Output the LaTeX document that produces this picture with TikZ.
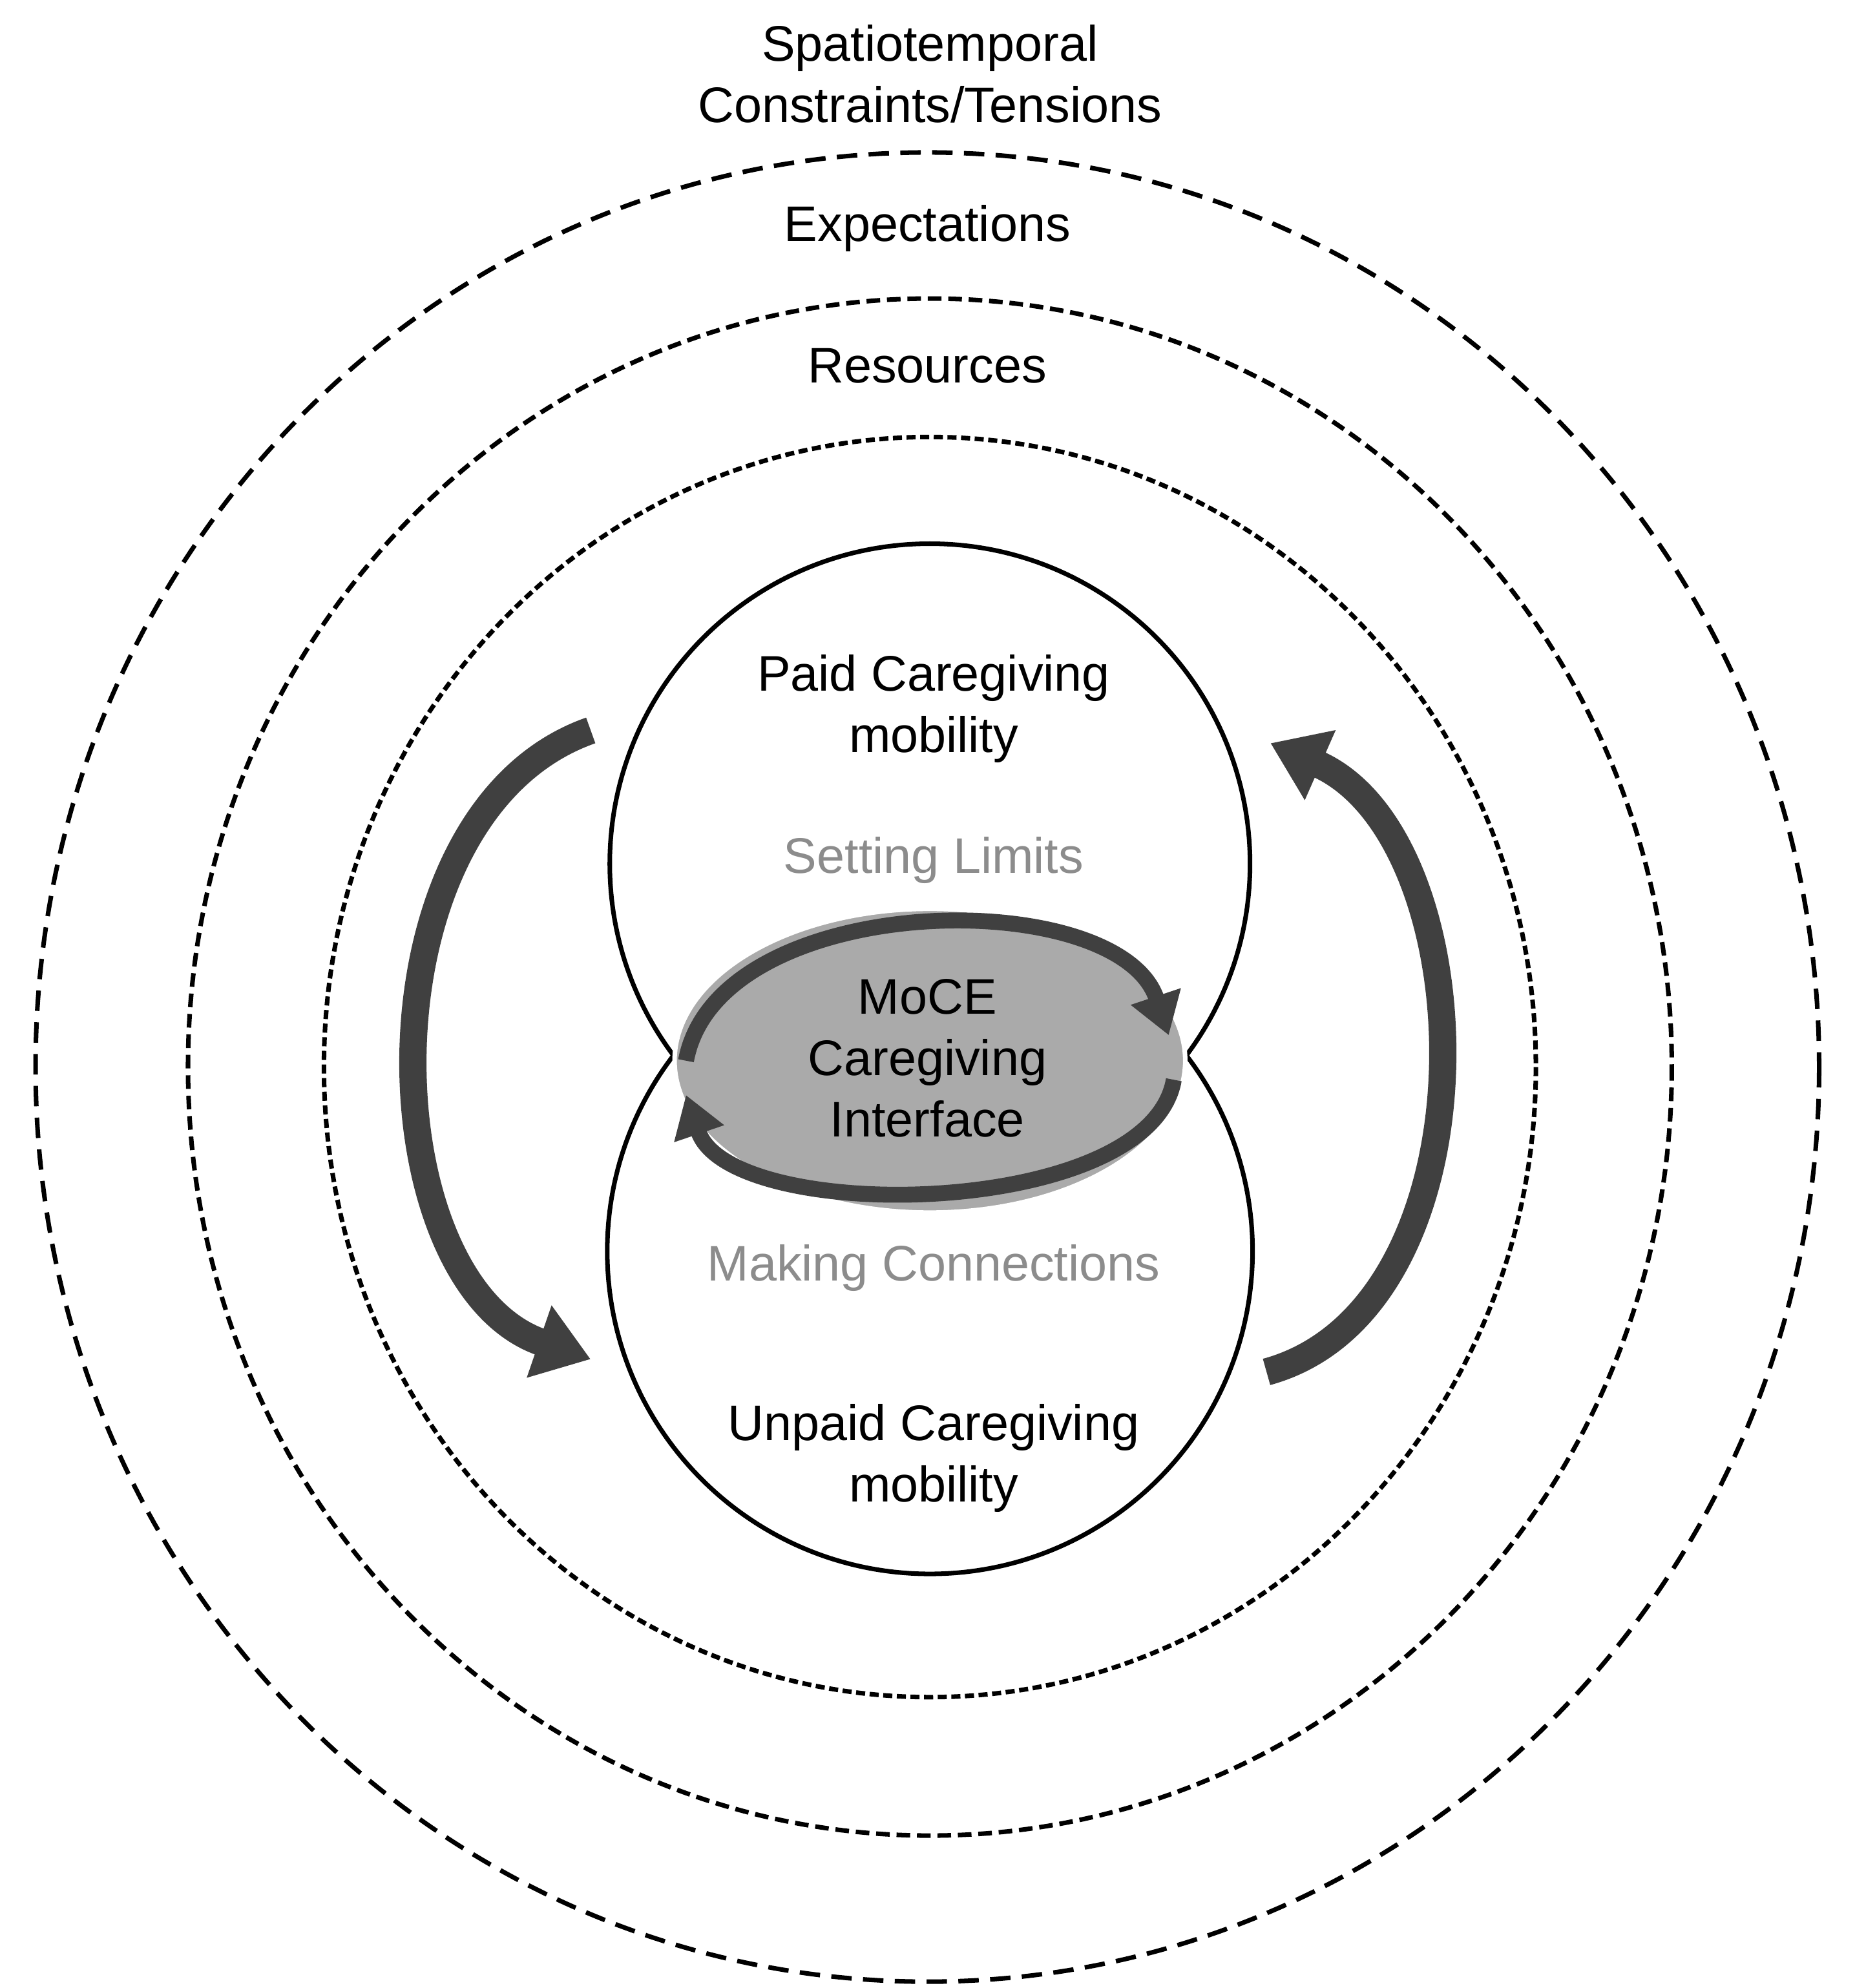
\documentclass[tikz,border=0pt]{standalone}
\usepackage{fontspec}
\setmainfont{Liberation Sans}
\usetikzlibrary{arrows.meta,shapes.geometric}
\definecolor{arrowgray}{RGB}{64,64,64}
\definecolor{coregray}{RGB}{170,170,170}
\definecolor{labelgray}{RGB}{140,140,140}
\begin{document}
\begin{tikzpicture}[x=0.01966cm,y=-0.01966cm,
    ring/.style={line width=2pt},
    txt/.style={font=\fontsize{22}{27}\selectfont,align=center},
    bigarrow/.style={draw=arrowgray,line width=12pt,
        -{Triangle[length=24pt,width=32pt]}},
    smallarrow/.style={draw=arrowgray,line width=7pt,
        -{Triangle[length=18pt,width=22pt]}}]
    \useasboundingbox (0,0) rectangle (1460,1565);
    % dashed rings
    \draw[ring,dash pattern=on 9pt off 5pt] (730,840) ellipse (702 and 720);
    \draw[ring,dash pattern=on 6pt off 3pt] (732,840) ellipse (584 and 605);
    \draw[ring,dash pattern=on 4pt off 2pt] (732,840) ellipse (477 and 496);
    % two mobility circles
    \draw[ring] (732,680) circle (252);
    \draw[ring] (732,985) circle (254);
    % core ellipse
    \node (core) [ellipse,fill=coregray,draw=white,line width=2pt,
        minimum width=7.9cm,minimum height=4.7cm] at (732,835) {};
    \draw[smallarrow] (540,835) .. controls (565,700) and (880,695) .. (920,815);
    \draw[smallarrow] (924,850) .. controls (905,960) and (575,965) .. (540,862);
    % labels
    \node[txt] (spatio) at (732,58) {Spatiotemporal\\Constraints/Tensions};
    \node[txt] (expect) at (730,180) {Expectations};
    \node[txt] (resour) at (730,288) {Resources};
    \node[txt] (paid) at (735,558) {Paid Caregiving\\mobility};
    \node[txt,text=labelgray] (limits) at (735,677) {Setting Limits};
    \node[txt] (moce) at (730,833) {MoCE\\Caregiving\\Interface};
    \node[txt,text=labelgray] (connect) at (735,998) {Making Connections};
    \node[txt] (unpaid) at (735,1148) {Unpaid Caregiving\\mobility};
    % big arrows between circles
    \coordinate (lstart) at (465,575);
    \coordinate (lend) at (465,1070);
    \coordinate (rstart) at (997,1080);
    \coordinate (rend) at (1000,585);
    \draw[bigarrow] (lstart) .. controls (280,640) and (290,1010) .. (lend);
    \draw[bigarrow] (rstart) .. controls (1180,1030) and (1170,660) .. (rend);
\end{tikzpicture}
\end{document}
